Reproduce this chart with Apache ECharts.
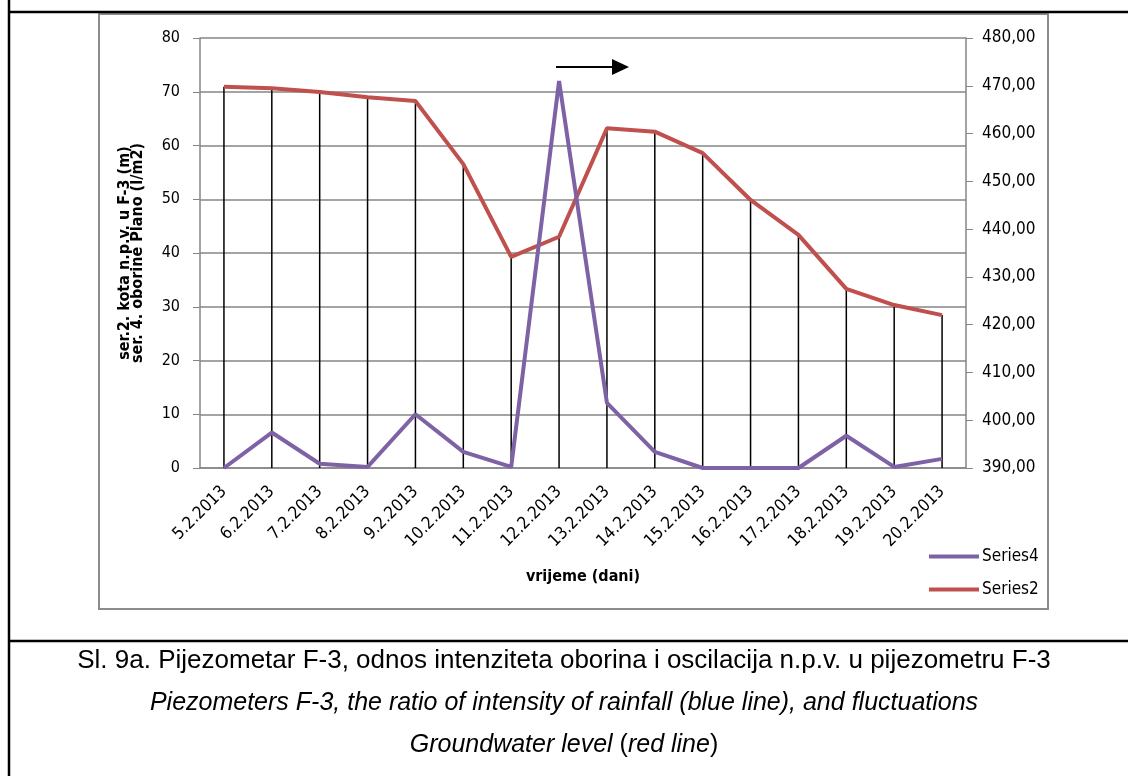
<!DOCTYPE html>
<html>
<head>
<meta charset="utf-8">
<script src="https://cdn.jsdelivr.net/npm/echarts@6/dist/echarts.min.js"></script>
<style>
html,body{margin:0;padding:0;background:#fff;}
#main{width:1128px;height:776px;}
</style>
</head>
<body>
<div id="main"></div>
<script>
var dates = ['5.2.2013','6.2.2013','7.2.2013','8.2.2013','9.2.2013','10.2.2013','11.2.2013','12.2.2013',
  '13.2.2013','14.2.2013','15.2.2013','16.2.2013','17.2.2013','18.2.2013','19.2.2013','20.2.2013'];
// ser. 4 - oborine (l/m2), lijeva os
var series4 = [0, 6.6, 0.8, 0.2, 10, 3.0, 0.2, 72, 12.1, 3.0, 0, 0, 0, 6.0, 0.2, 1.7];
// ser. 2 - kota n.p.v. (m), desna os
var series2 = [469.8, 469.5, 468.7, 467.6, 466.8, 453.6, 434.2, 438.4, 461.1, 460.4, 455.9, 446.1, 438.8, 427.5, 424.1, 422.0];

var chartFont = 'Tahoma, "DejaVu Sans Condensed", "DejaVu Sans", sans-serif';
var capFont = '"Liberation Sans", Arial, sans-serif';
var myChart = echarts.init(document.getElementById('main'));

var option = {
  backgroundColor: '#fff',
  animation: false,
  grid: { left: 200, right: 162, top: 38, bottom: 308 },
  legend: {
    orient: 'vertical',
    left: 929, top: 548,
    padding: 0,
    itemWidth: 50, itemHeight: 4, itemGap: 16,
    icon: 'rect',
    data: ['Series4', 'Series2'],
    textStyle: { fontFamily: chartFont, fontSize: 17, color: '#000', padding: [0,0,0,-2] }
  },
  xAxis: {
    type: 'category',
    data: dates,
    name: 'vrijeme (dani)',
    nameLocation: 'middle',
    nameGap: 101,
    nameTextStyle: { fontFamily: chartFont, fontSize: 16, fontWeight: 'bold', color: '#000' },
    axisLine: { lineStyle: { color: '#868686', width: 1.5 } },
    axisTick: { show: false },
    axisLabel: { rotate: 45, fontFamily: chartFont, fontSize: 17, color: '#000', margin: 21, interval: 0 },
    splitLine: { show: false }
  },
  yAxis: [
    {
      type: 'value', min: 0, max: 80, interval: 10,
      name: 'ser.2. kota n.p.v. u F-3 (m)\nser. 4. oborine Plano (l/m2)',
      nameLocation: 'middle', nameRotate: 90, nameGap: 56,
      nameTextStyle: { fontFamily: chartFont, fontSize: 16, fontWeight: 'bold', color: '#000', lineHeight: 13 },
      axisLine: { show: true, lineStyle: { color: '#868686', width: 1.5 } },
      axisTick: { show: true, length: 7, lineStyle: { color: '#868686' } },
      axisLabel: { fontFamily: chartFont, fontSize: 16, color: '#000', margin: 20 },
      splitLine: { lineStyle: { color: '#868686', width: 1.5 } }
    },
    {
      type: 'value', min: 390, max: 480, interval: 10,
      position: 'right',
      axisLine: { show: true, lineStyle: { color: '#868686', width: 1.5 } },
      axisTick: { show: true, length: 7, lineStyle: { color: '#868686' } },
      axisLabel: {
        fontFamily: chartFont, fontSize: 17, color: '#000', margin: 16,
        formatter: function (v) { return v.toFixed(2).replace('.', ','); }
      },
      splitLine: { show: false }
    }
  ],
  series: [
    {
      // vertikalne linije od tocke do osi
      name: 'drop',
      type: 'bar',
      yAxisIndex: 1,
      barWidth: 1.5,
      data: series2,
      itemStyle: { color: '#000' },
      silent: true,
      z: 1
    },
    {
      name: 'Series4',
      type: 'line',
      yAxisIndex: 0,
      data: series4,
      symbol: 'none',
      color: '#7f62a6',
      lineStyle: { width: 4, color: '#7f62a6' },
      z: 3
    },
    {
      name: 'Series2',
      type: 'line',
      yAxisIndex: 1,
      data: series2,
      symbol: 'none',
      color: '#c0504d',
      lineStyle: { width: 4, color: '#c0504d' },
      z: 2
    }
  ],
  graphic: [
    // vanjski okvir
    { type: 'line', shape: { x1: 9, y1: 0, x2: 9, y2: 776 }, style: { stroke: '#000', lineWidth: 2.5 } },
    { type: 'line', shape: { x1: 8, y1: 12, x2: 1128, y2: 12 }, style: { stroke: '#000', lineWidth: 2.5 } },
    { type: 'line', shape: { x1: 8, y1: 641, x2: 1128, y2: 641 }, style: { stroke: '#000', lineWidth: 2.5 } },
    // okvir grafa
    { type: 'rect', shape: { x: 99, y: 14, width: 949, height: 595 }, style: { fill: 'none', stroke: '#8c8c8c', lineWidth: 2 }, z: -1 },
    // strelica
    { type: 'line', shape: { x1: 556, y1: 67, x2: 614, y2: 67 }, style: { stroke: '#000', lineWidth: 2 } },
    { type: 'polygon', shape: { points: [[612, 59], [629, 67], [612, 75]] }, style: { fill: '#000' } },
    // potpis
    { type: 'text', left: 'center', top: 648, style: { text: 'Sl. 9a. Pijezometar F-3, odnos intenziteta oborina i oscilacija n.p.v. u pijezometru F-3', font: '26px ' + capFont, fill: '#000' } },
    { type: 'text', left: 'center', top: 691, style: { text: 'Piezometers F-3, the ratio of intensity of rainfall (blue line), and fluctuations', font: 'italic 25px ' + capFont, fill: '#000' } },
    { type: 'text', left: 'center', top: 733, style: { rich: { i: { font: 'italic 25px ' + capFont }, n: { font: '25px ' + capFont } }, text: '{i|Groundwater level }{n|(}{i|red line}{n|)}', fill: '#000' } }
  ]
};

myChart.setOption(option);
</script>
</body>
</html>
